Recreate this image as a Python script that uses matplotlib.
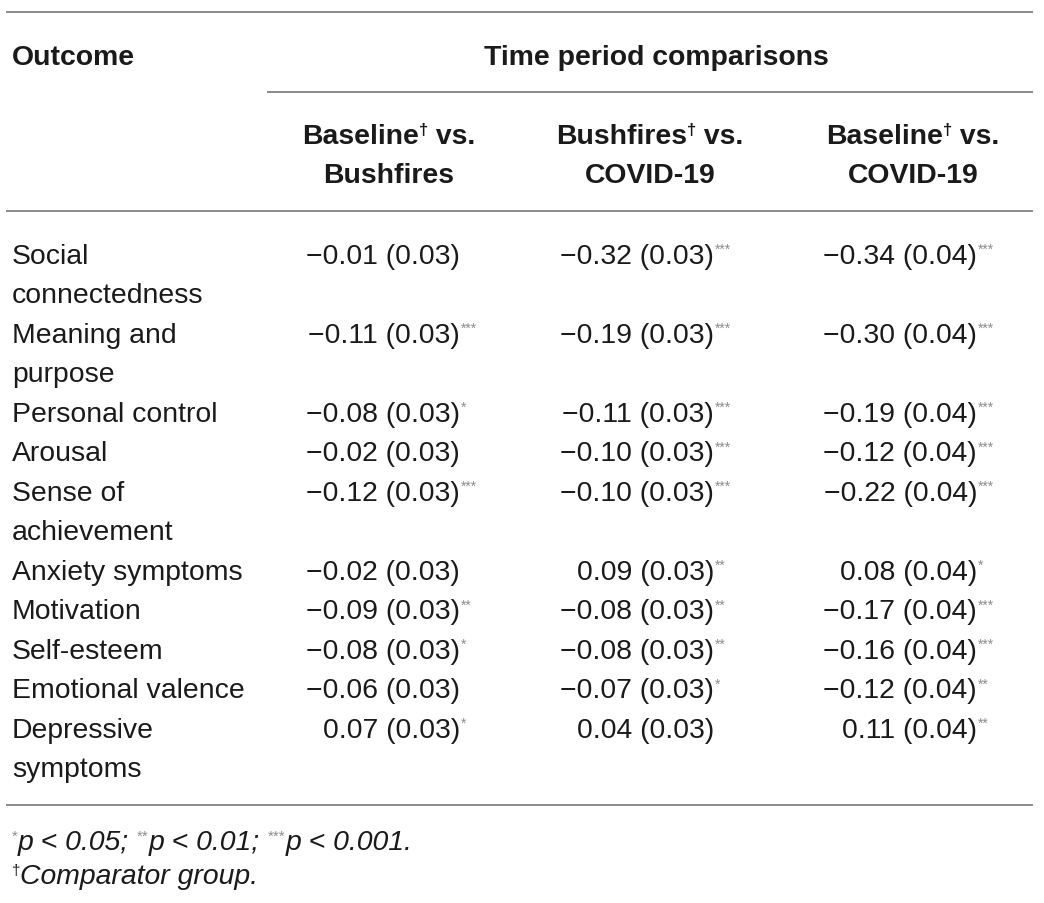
import matplotlib
matplotlib.use('Agg')
import matplotlib.pyplot as plt

# table content
outcomes = ["Social\nconnectedness", "Meaning and\npurpose", "Personal control", "Arousal",
            "Sense of\nachievement", "Anxiety symptoms", "Motivation", "Self-esteem",
            "Emotional valence", "Depressive\nsymptoms"]
base_vs_bush = [-0.01, -0.11, -0.08, -0.02, -0.12, -0.02, -0.09, -0.08, -0.06, 0.07]
base_vs_bush_se = [0.03] * 10
base_vs_bush_sig = ["", "***", "*", "", "***", "", "**", "*", "", "*"]
bush_vs_covid = [-0.32, -0.19, -0.11, -0.10, -0.10, 0.09, -0.08, -0.08, -0.07, 0.04]
bush_vs_covid_se = [0.03] * 10
bush_vs_covid_sig = ["***", "***", "***", "***", "***", "**", "**", "**", "*", ""]
base_vs_covid = [-0.34, -0.30, -0.19, -0.12, -0.22, 0.08, -0.17, -0.16, -0.12, 0.11]
base_vs_covid_se = [0.04] * 10
base_vs_covid_sig = ["***", "***", "***", "***", "***", "*", "***", "***", "**", "**"]

col_heads = [("Baseline", "Bushfires"), ("Bushfires", "COVID-19"), ("Baseline", "COVID-19")]

W, H = 1044, 904
FS = 20.4
TXT = '#1a1a1a'
GREY = '#8c8c8c'
plt.rcParams['font.family'] = ['Liberation Sans', 'DejaVu Sans']

fig = plt.figure(figsize=(W / 100, H / 100), dpi=100)
ax = fig.add_axes([0, 0, 1, 1])
ax.set_xlim(0, W)
ax.set_ylim(H, 0)
ax.axis('off')
renderer = fig.canvas.get_renderer()


def runs(x, y, pieces, ha='left'):
    # pieces: (text, size, rise, color, weight, style)
    texts, cur = [], x
    for s, size, rise, color, weight, style in pieces:
        t = ax.text(cur, y - rise, s, fontsize=size, color=color, fontweight=weight,
                    fontstyle=style, ha='left', va='baseline')
        cur += t.get_window_extent(renderer).width
        texts.append(t)
    total = cur - x
    shift = {'left': 0, 'center': -total / 2, 'right': -total}[ha]
    for t in texts:
        px, py = t.get_position()
        t.set_position((px + shift, py))


# rules
for y, x0 in [(13, 6), (93, 267), (212, 6), (806, 6)]:
    ax.plot([x0, 1033], [y, y], color='#8a8a8a', lw=1.4, solid_capstyle='butt')

# header
ax.text(12, 65, "Outcome", fontsize=FS, fontweight='bold', color=TXT, va='baseline')
ax.text(656, 65, "Time period comparisons", fontsize=FS, fontweight='bold', color=TXT,
        ha='center', va='baseline')
centers = [389, 650, 913]
for cx, (a, b) in zip(centers, col_heads):
    runs(cx, 144, [(a, FS, 0, TXT, 'bold', 'normal'),
                   ("\u2020", 12, 9, TXT, 'bold', 'normal'),
                   (" vs.", FS, 0, TXT, 'bold', 'normal')], ha='center')
    ax.text(cx, 183, b, fontsize=FS, fontweight='bold', color=TXT, ha='center', va='baseline')

# body
rights = [460, 714, 977]
cols = [(base_vs_bush, base_vs_bush_se, base_vs_bush_sig),
        (bush_vs_covid, bush_vs_covid_se, bush_vs_covid_sig),
        (base_vs_covid, base_vs_covid_se, base_vs_covid_sig)]
step = 39.5
y0 = 264
line = 0
for i, name in enumerate(outcomes):
    y = y0 + line * step
    parts = name.split("\n")
    for k, part in enumerate(parts):
        ax.text(12, y + k * step, part, fontsize=FS, color=TXT, va='baseline')
    for rx, (est, se, sig) in zip(rights, cols):
        s = f"{abs(est[i]):.2f} ({se[i]:.2f})"
        if est[i] < 0:
            s = "\u2212" + s
        ax.text(rx, y, s, fontsize=FS, color=TXT, ha='right', va='baseline')
        if sig[i]:
            ax.text(rx + 1, y - 10, sig[i], fontsize=10, color=GREY, ha='left', va='baseline')
    line += len(parts)

# footnotes
runs(12, 850, [("*", 11, 9, GREY, 'normal', 'normal'),
               ("p < 0.05; ", FS, 0, TXT, 'normal', 'italic'),
               ("**", 11, 9, GREY, 'normal', 'normal'),
               ("p < 0.01; ", FS, 0, TXT, 'normal', 'italic'),
               ("***", 11, 9, GREY, 'normal', 'normal'),
               ("p < 0.001.", FS, 0, TXT, 'normal', 'italic')])
runs(12, 884, [("\u2020", 11, 9, TXT, 'normal', 'normal'),
               ("Comparator group.", FS, 0, TXT, 'normal', 'italic')])

fig.savefig("out.png", dpi=100)
